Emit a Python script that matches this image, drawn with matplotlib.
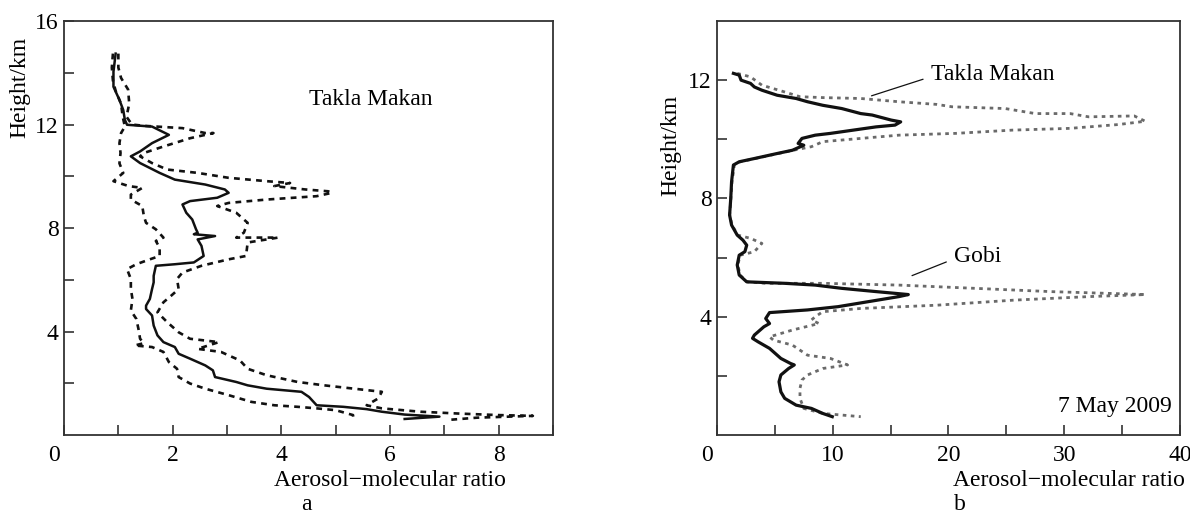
import matplotlib
matplotlib.use('Agg')
from matplotlib import pyplot as plt
from matplotlib.transforms import ScaledTranslation

# panel a: Takla Makan, mean profile and envelope
a_mean_x = [0.95, 0.91, 0.91, 1.02, 1.09, 1.12, 1.16, 1.62, 1.93, 1.62, 1.40, 1.23, 1.40, 1.76, 2.04,
            2.60, 2.96, 3.03, 2.82, 2.32, 2.18, 2.25, 2.36, 2.43, 2.46, 2.39, 2.78, 2.46, 2.53, 2.57,
            2.39, 2.04, 1.69, 1.65, 1.65, 1.62, 1.58, 1.51, 1.51, 1.62, 1.65, 1.72, 1.83, 2.04, 2.11,
            2.32, 2.60, 2.74, 2.78, 3.17, 3.38, 3.73, 4.37, 4.51, 4.65, 5.14, 5.57, 5.85, 6.27, 6.91, 6.27]
a_mean_y = [14.74, 14.04, 13.46, 12.95, 12.56, 12.18, 11.99, 11.92, 11.6, 11.28, 10.96, 10.77, 10.51,
            10.13, 9.87, 9.68, 9.49, 9.36, 9.17, 9.04, 8.91, 8.59, 8.33, 7.95, 7.82, 7.76, 7.69, 7.56,
            7.31, 6.92, 6.67, 6.60, 6.54, 6.15, 5.9, 5.64, 5.26, 5.0, 4.87, 4.62, 4.23, 3.85, 3.59, 3.40,
            3.14, 2.95, 2.69, 2.50, 2.24, 2.05, 1.92, 1.79, 1.67, 1.47, 1.15, 1.09, 1.00, 0.90, 0.79,
            0.71, 0.62]

a_low_x = [0.90, 0.88, 0.90, 0.95, 1.05, 1.08, 1.12, 1.05, 1.02, 1.04, 1.02, 1.09, 0.91, 1.19, 1.44,
           1.23, 1.23, 1.44, 1.47, 1.51, 1.69, 1.83, 1.69, 1.76, 1.76, 1.58, 1.33, 1.16, 1.23, 1.23,
           1.26, 1.23, 1.33, 1.37, 1.40, 1.47, 1.30, 1.62, 1.83, 1.93, 2.08, 2.11, 2.32, 2.60, 3.03,
           3.45, 3.87, 4.30, 4.65, 5.00, 5.32, 5.32]
a_low_y = [14.74, 14.2, 13.7, 13.3, 12.8, 12.3, 11.92, 11.67, 11.28, 10.9, 10.5, 10.13, 9.81, 9.62,
           9.55, 9.29, 9.1, 8.85, 8.46, 8.2, 7.95, 7.63, 7.5, 7.24, 6.92, 6.79, 6.6, 6.41, 6.03, 5.64,
           5.26, 4.81, 4.49, 4.1, 3.72, 3.55, 3.46, 3.40, 3.21, 2.82, 2.56, 2.24, 1.99, 1.79, 1.54,
           1.28, 1.15, 1.09, 1.03, 0.96, 0.77, 0.58]

a_high_x = [1.00, 1.00, 1.05, 1.18, 1.20, 1.15, 1.25, 1.47, 2.18, 2.60, 2.75, 2.32, 1.83, 1.47, 1.40,
            1.62, 1.90, 2.46, 3.03, 3.73, 4.16, 3.87, 4.44, 4.86, 4.93, 4.65, 3.73, 3.03, 2.82, 3.17,
            3.38, 3.31, 3.17, 3.94, 3.38, 3.35, 3.03, 2.53, 2.18, 2.08, 2.11, 1.97, 1.83, 1.72, 1.90,
            2.11, 2.32, 2.85, 2.46, 2.89, 3.24, 3.38, 3.73, 4.30, 4.79, 5.85, 5.78, 5.57, 5.85, 6.56,
            7.26, 8.00, 8.63, 7.60, 7.05]
a_high_y = [14.74, 14.2, 13.8, 13.35, 12.8, 12.3, 12.0, 11.95, 11.86, 11.67, 11.67, 11.47, 11.15,
            10.9, 10.77, 10.51, 10.26, 10.13, 9.94, 9.81, 9.74, 9.62, 9.49, 9.42, 9.36, 9.23, 9.10,
            8.97, 8.85, 8.59, 8.2, 7.82, 7.63, 7.63, 7.44, 6.92, 6.79, 6.54, 6.28, 6.03, 5.64, 5.38,
            5.13, 4.74, 4.36, 3.97, 3.72, 3.59, 3.33, 3.21, 2.88, 2.56, 2.31, 2.05, 1.92, 1.67, 1.41,
            1.15, 1.03, 0.90, 0.83, 0.77, 0.74, 0.67, 0.58]

# panel b: 7 May 2009
b_solid_x = [1.42, 1.92, 2.08, 2.90, 3.23, 3.88, 5.20, 6.84, 7.82, 9.14, 10.78, 12.42, 13.41, 15.05,
             15.87, 15.38, 13.74, 11.77, 9.80, 8.49, 7.34, 7.01, 7.50, 6.52, 5.20, 3.23, 1.92, 1.42,
             1.26, 1.19, 1.09, 1.26, 1.75, 2.24, 2.57, 2.41, 1.92, 1.75, 1.92, 2.57, 5.85, 8.49,
             10.78, 13.74, 16.53, 15.71, 13.08, 10.45, 7.82, 4.54, 4.21, 4.54, 4.05, 3.23, 3.07, 3.56,
             4.54, 5.52, 6.35, 6.68, 6.19, 5.52, 5.36, 5.52, 5.85, 6.84, 8.16, 9.14, 9.96]
b_solid_y = [12.23, 12.17, 12.0, 11.89, 11.77, 11.66, 11.49, 11.38, 11.27, 11.15, 11.04, 10.87, 10.82,
             10.65, 10.59, 10.48, 10.42, 10.31, 10.20, 10.14, 10.03, 9.86, 9.80, 9.63, 9.52, 9.35,
             9.24, 9.13, 8.56, 8.0, 7.44, 7.10, 6.76, 6.59, 6.42, 6.20, 6.08, 5.75, 5.41, 5.18, 5.13,
             5.07, 4.96, 4.85, 4.75, 4.68, 4.51, 4.34, 4.23, 4.14, 3.94, 3.77, 3.66, 3.38, 3.27, 3.15,
             2.93, 2.59, 2.42, 2.37, 2.25, 2.03, 1.80, 1.46, 1.24, 1.01, 0.90, 0.73, 0.62]

b_dash_x = [1.75, 2.90, 3.88, 5.85, 7.17, 9.14, 12.42, 15.71, 18.99, 20.3, 24.9, 27.5, 30.5, 32.1,
            36.05, 37.0, 34.7, 30.5, 25.5, 20.6, 15.71, 12.42, 9.14, 8.16, 6.6, 5.3, 3.3, 2.0, 1.5,
            1.3, 1.2, 1.1, 1.3, 1.8, 2.90, 3.88, 3.23, 2.0, 1.8, 2.0, 2.6, 4.21, 9.14, 15.71, 22.3,
            28.8, 33.8, 37.0, 32.1, 25.6, 19.0, 12.42, 9.14, 8.49, 8.16, 8.81, 6.52, 4.54, 4.87, 6.52,
            7.82, 9.80, 11.28, 9.14, 7.82, 7.34, 7.17, 7.17, 7.50, 9.14, 12.42]
b_dash_y = [12.23, 12.11, 11.83, 11.6, 11.44, 11.41, 11.38, 11.27, 11.18, 11.1, 11.04, 10.87, 10.87,
            10.76, 10.79, 10.61, 10.50, 10.37, 10.31, 10.2, 10.14, 10.03, 9.92, 9.75, 9.63, 9.52,
            9.35, 9.24, 9.13, 8.56, 8.0, 7.44, 7.10, 6.76, 6.65, 6.48, 6.20, 6.08, 5.75, 5.41, 5.18,
            5.13, 5.13, 5.07, 4.96, 4.85, 4.79, 4.75, 4.68, 4.56, 4.39, 4.28, 4.17, 4.0, 3.89, 3.77,
            3.55, 3.32, 3.21, 3.04, 2.70, 2.59, 2.37, 2.25, 2.03, 1.86, 1.58, 1.24, 0.90, 0.73, 0.62]

a_xticks = list(range(0, 10))
a_xlabels = ['0', '', '2', '', '4', '', '6', '', '8', '']
a_yticks = [2, 4, 6, 8, 10, 12, 14, 16]
a_ylabels = ['', '4', '', '8', '', '12', '', '16']
b_xticks = [0, 5, 10, 15, 20, 25, 30, 35, 40]
b_xlabels = ['0', '', '10', '', '20', '', '30', '', '40']
b_yticks = [2, 4, 6, 8, 10, 12]
b_ylabels = ['', '4', '', '8', '', '12']

plt.rcParams['font.family'] = ['Liberation Serif', 'DejaVu Serif']
plt.rcParams['font.size'] = 17

fig = plt.figure(figsize=(11.9, 5.15), dpi=100)
ax1 = fig.add_axes([0.0538, 0.1553, 0.4109, 0.8039])
ax2 = fig.add_axes([0.6025, 0.1553, 0.3891, 0.8039])


def style(ax, xt, xl, yt, yl):
    ax.set_xticks(xt, xl)
    ax.set_yticks(yt, yl)
    ax.tick_params(direction='in', length=7, width=1.2, color='#333333',
                   top=False, right=False)
    ax.tick_params(axis='x', pad=7)
    ax.tick_params(axis='y', pad=4)
    for s in ax.spines.values():
        s.set_linewidth(1.3)
        s.set_color('#333333')
    # the "0" label sits left of the corner
    lab = ax.get_xticklabels()[0]
    lab.set_transform(lab.get_transform() + ScaledTranslation(-0.10, 0, fig.dpi_scale_trans))
    ax.set_xlabel('Aerosol\u2212molecular ratio')
    ax.xaxis.label.set_va('center')
    ax.set_ylabel('Height/km')
    ax.yaxis.label.set_va('center')


# 图 a
ax1.plot(a_low_x, a_low_y, color='#111111', lw=1.9, ls=(0, (2.2, 2.0)))
ax1.plot(a_high_x, a_high_y, color='#111111', lw=1.9, ls=(0, (2.2, 2.0)))
ax1.plot(a_mean_x, a_mean_y, color='#111111', lw=1.8)
ax1.set_xlim(0, 9)
ax1.set_ylim(0, 16)
style(ax1, a_xticks, a_xlabels, a_yticks, a_ylabels)
ax1.xaxis.set_label_coords(0.667, -0.11)
ax1.yaxis.set_label_coords(-0.09, 0.84)
ax1.text(5.65, 12.95, 'Takla Makan', ha='center', va='center')

# 图 b
ax2.plot(b_dash_x, b_dash_y, color='#6a6a6a', lw=2.0, ls=(0, (1.3, 1.6)), zorder=1)
ax2.plot(b_solid_x, b_solid_y, color='#111111', lw=2.3, zorder=2)
ax2.set_xlim(0, 40)
ax2.set_ylim(0, 14)
style(ax2, b_xticks, b_xlabels, b_yticks, b_ylabels)
ax2.xaxis.set_label_coords(0.76, -0.11)
ax2.yaxis.set_label_coords(-0.10, 0.70)

ax2.annotate('Takla Makan', xy=(13.35, 11.47), xytext=(18.5, 12.19), ha='left', va='center',
             arrowprops=dict(arrowstyle='-', lw=0.9, color='#111111', shrinkA=4, shrinkB=0,
                             relpos=(0, 0.4)))
ax2.annotate('Gobi', xy=(16.85, 5.39), xytext=(20.5, 6.03), ha='left', va='center',
             arrowprops=dict(arrowstyle='-', lw=0.9, color='#111111', shrinkA=4, shrinkB=0,
                             relpos=(0, 0.4)))
ax2.text(39.3, 0.96, '7 May 2009', ha='right', va='center')

fig.text(306 / 1190, 1 - 505 / 515, 'a', ha='center', va='center')
fig.text(960 / 1190, 1 - 505 / 515, 'b', ha='center', va='center')

fig.savefig('out.png', dpi=100)
